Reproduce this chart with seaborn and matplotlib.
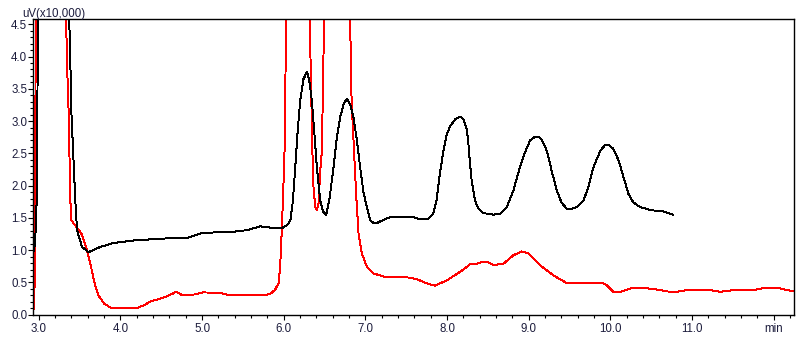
import pandas as pd
import matplotlib.pyplot as plt
import seaborn as sns

# Black trace (retention time in min, signal in uV x10,000)
black_t = [2.93, 2.955, 2.975, 2.985, 2.99, 3.17, 3.37, 3.386, 3.398, 3.447, 3.468, 3.529,
           3.61, 3.753, 3.91, 4.157, 4.52, 4.82, 5.01, 5.344, 5.55, 5.71, 5.83, 5.99,
           6.05, 6.08, 6.11, 6.14, 6.17, 6.20, 6.24, 6.283, 6.31, 6.344, 6.375, 6.405,
           6.446, 6.48, 6.52, 6.56, 6.608, 6.65, 6.69, 6.735, 6.776, 6.815, 6.853, 6.895,
           6.935, 6.975, 7.017, 7.06, 7.10, 7.14, 7.22, 7.30, 7.59, 7.67, 7.77, 7.83,
           7.87, 7.91, 7.955, 7.996, 8.04, 8.10, 8.16, 8.20, 8.24, 8.26, 8.28, 8.30,
           8.34, 8.385, 8.44, 8.57, 8.65, 8.73, 8.81, 8.89, 8.955, 9.016, 9.077, 9.117,
           9.16, 9.22, 9.28, 9.34, 9.40, 9.465, 9.505, 9.59, 9.67, 9.73, 9.79, 9.875,
           9.935, 9.975, 10.035, 10.10, 10.16, 10.22, 10.28, 10.36, 10.49, 10.65, 10.77]
black_v = [0.95, 1.1, 1.8, 3.67, 4.7, 30.0, 4.7, 3.93, 3.16, 1.77, 1.31, 1.05,
           0.97, 1.05, 1.11, 1.15, 1.18, 1.19, 1.27, 1.28, 1.31, 1.37, 1.35, 1.35,
           1.40, 1.46, 1.75, 2.28, 2.85, 3.31, 3.65, 3.76, 3.65, 3.31, 2.80, 2.28,
           1.77, 1.60, 1.55, 1.80, 2.28, 2.75, 3.06, 3.28, 3.34, 3.25, 3.06, 2.70,
           2.28, 1.90, 1.67, 1.46, 1.42, 1.42, 1.47, 1.51, 1.51, 1.475, 1.49, 1.565,
           1.77, 2.18, 2.54, 2.80, 2.93, 3.03, 3.07, 3.03, 2.88, 2.65, 2.34, 2.08,
           1.77, 1.64, 1.575, 1.55, 1.565, 1.67, 1.92, 2.28, 2.52, 2.70, 2.76, 2.76,
           2.71, 2.54, 2.23, 1.93, 1.74, 1.64, 1.63, 1.67, 1.77, 1.98, 2.28, 2.54,
           2.63, 2.635, 2.57, 2.39, 2.13, 1.87, 1.74, 1.67, 1.62, 1.60, 1.55]

# Red trace
red_t = [2.93, 2.945, 2.955, 2.96, 2.965, 3.15, 3.333, 3.345, 3.365, 3.386, 3.40, 3.46,
         3.52, 3.58, 3.63, 3.68, 3.73, 3.80, 3.88, 3.97, 4.19, 4.28, 4.36, 4.46,
         4.56, 4.63, 4.68, 4.76, 4.89, 5.01, 5.21, 5.34, 5.75, 5.83, 5.89, 5.935,
         5.955, 5.977, 5.996, 6.009, 6.03, 6.17, 6.315, 6.35, 6.36, 6.385, 6.405, 6.425,
         6.446, 6.466, 6.495, 6.65, 6.81, 6.83, 6.865, 6.89, 6.915, 6.956, 7.017, 7.10,
         7.22, 7.465, 7.63, 7.75, 7.85, 8.00, 8.16, 8.28, 8.36, 8.44, 8.50, 8.57,
         8.69, 8.81, 8.91, 8.995, 9.14, 9.30, 9.465, 9.91, 9.96, 10.035, 10.12, 10.28,
         10.445, 10.567, 10.77, 10.93, 11.18, 11.34, 11.50, 11.75, 11.91, 12.035, 12.158, 12.26]
red_v = [0.0, 0.23, 1.0, 3.7, 4.7, 30.0, 4.7, 3.9, 3.16, 1.77, 1.46, 1.36,
         1.26, 1.05, 0.80, 0.50, 0.30, 0.17, 0.11, 0.10, 0.10, 0.14, 0.20, 0.24,
         0.28, 0.32, 0.355, 0.30, 0.31, 0.345, 0.34, 0.30, 0.30, 0.32, 0.38, 0.485,
         0.74, 1.36, 2.03, 2.54, 4.7, 30.0, 4.7, 2.54, 2.03, 1.67, 1.62, 1.72,
         2.23, 2.54, 4.7, 30.0, 4.7, 3.31, 2.40, 1.77, 1.26, 0.95, 0.74, 0.64,
         0.59, 0.59, 0.55, 0.485, 0.45, 0.535, 0.665, 0.78, 0.79, 0.82, 0.81, 0.77,
         0.79, 0.92, 0.98, 0.95, 0.765, 0.61, 0.49, 0.485, 0.45, 0.355, 0.355, 0.42,
         0.41, 0.39, 0.345, 0.38, 0.39, 0.355, 0.38, 0.38, 0.42, 0.42, 0.38, 0.365]

y_ticks = [0.0, 0.5, 1.0, 1.5, 2.0, 2.5, 3.0, 3.5, 4.0, 4.5]
x_ticks = [3, 4, 5, 6, 7, 8, 9, 10, 11, 12]
x_labels = ["3.0", "4.0", "5.0", "6.0", "7.0", "8.0", "9.0", "10.0", "11.0", "min"]

df_black = pd.DataFrame({"time": black_t, "signal": black_v})
df_red = pd.DataFrame({"time": red_t, "signal": red_v})

sns.set_style("ticks")
plt.rcParams["font.family"] = ["Liberation Sans", "DejaVu Sans"]
text_color = "#1c1c3c"

fig = plt.figure(figsize=(8.08, 3.52), dpi=100)
ax = fig.add_axes([33 / 808, 1 - 314.7 / 352, 761 / 808, 295.7 / 352])

sns.lineplot(data=df_red, x="time", y="signal", color="red", linewidth=0.7,
             estimator=None, sort=False, ax=ax, antialiased=False)
sns.lineplot(data=df_black, x="time", y="signal", color="black", linewidth=0.7,
             estimator=None, sort=False, ax=ax, antialiased=False)

ax.set_xlim(2.929, 12.247)
ax.set_ylim(0, 4.582)
ax.set_xlabel("")
ax.set_ylabel("")

ax.set_xticks(x_ticks)
ax.set_xticklabels(x_labels)
ax.set_xticks([t / 5 for t in range(15, 62)], minor=True)
ax.set_yticks(y_ticks)
ax.set_yticklabels([f"{v:.1f}" for v in y_ticks])
ax.set_yticks([t / 10 for t in range(0, 46)], minor=True)

ax.tick_params(axis="both", which="major", length=3.6, width=0.8, labelsize=8.3,
               colors="black", labelcolor=text_color)
ax.tick_params(axis="both", which="minor", length=2.0, width=0.8, colors="black")
ax.tick_params(axis="x", which="major", pad=2.6)
ax.tick_params(axis="y", which="major", pad=0.6)

for s in ax.spines.values():
    s.set_linewidth(1.0)
    s.set_color("black")

fig.text(22 / 808, 1 - 14.5 / 352, "uV(x10,000)", fontsize=8.3, color=text_color,
         ha="left", va="center")

fig.savefig("out.png", dpi=100)
